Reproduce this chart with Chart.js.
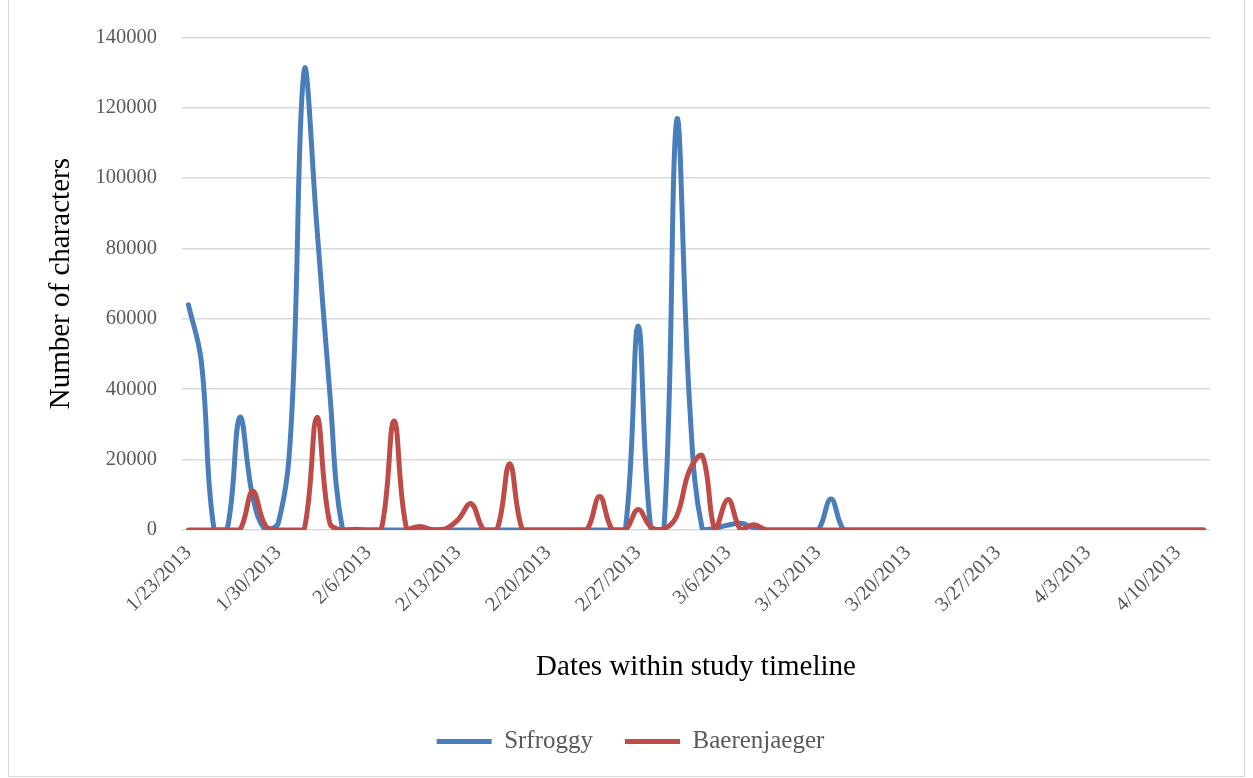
<!DOCTYPE html>
<html>
<head>
<meta charset="utf-8">
<script src="https://cdn.jsdelivr.net/npm/chart.js@4/dist/chart.umd.min.js"></script>
<style>
  html, body { margin: 0; padding: 0; background: #ffffff; }
  #frame { position: absolute; left: 8px; top: -1px; width: 1237px; height: 778px; border: 1px solid #d9d9d9; box-sizing: border-box; }
  #wrap { position: absolute; left: 0; top: 0; width: 1253px; height: 778px; }
</style>
</head>
<body>
<div id="frame"></div>
<div id="wrap"><canvas id="c" width="1253" height="778"></canvas></div>
<script>
const dates = [
  '1/23/2013','1/24/2013','1/25/2013','1/26/2013','1/27/2013','1/28/2013','1/29/2013','1/30/2013','1/31/2013',
  '2/1/2013','2/2/2013','2/3/2013','2/4/2013','2/5/2013','2/6/2013','2/7/2013','2/8/2013','2/9/2013','2/10/2013',
  '2/11/2013','2/12/2013','2/13/2013','2/14/2013','2/15/2013','2/16/2013','2/17/2013','2/18/2013','2/19/2013','2/20/2013',
  '2/21/2013','2/22/2013','2/23/2013','2/24/2013','2/25/2013','2/26/2013','2/27/2013','2/28/2013',
  '3/1/2013','3/2/2013','3/3/2013','3/4/2013','3/5/2013','3/6/2013','3/7/2013','3/8/2013','3/9/2013','3/10/2013',
  '3/11/2013','3/12/2013','3/13/2013','3/14/2013','3/15/2013','3/16/2013','3/17/2013','3/18/2013','3/19/2013','3/20/2013',
  '3/21/2013','3/22/2013','3/23/2013','3/24/2013','3/25/2013','3/26/2013','3/27/2013','3/28/2013','3/29/2013','3/30/2013','3/31/2013',
  '4/1/2013','4/2/2013','4/3/2013','4/4/2013','4/5/2013','4/6/2013','4/7/2013','4/8/2013','4/9/2013','4/10/2013','4/11/2013','4/12/2013'
];

const tickLabels = ['1/23/2013','1/30/2013','2/6/2013','2/13/2013','2/20/2013','2/27/2013',
  '3/6/2013','3/13/2013','3/20/2013','3/27/2013','4/3/2013','4/10/2013'];

const yTicks = [0, 20000, 40000, 60000, 80000, 100000, 120000, 140000];

const srfroggy = [
  64000, 48000, 0, 0, 32000, 9500, 0, 2000, 30000, 130500,
  86000, 39000, 0, 0, 0, 0, 0, 0, 0, 0,
  0, 0, 0, 0, 0, 0, 0, 0, 0, 0,
  0, 0, 0, 0, 0, 58000, 0, 0, 116500, 36000,
  0, 500, 1400, 1900, 600, 0, 0, 0, 0, 0,
  8800, 0, 0, 0, 0, 0, 0, 0, 0, 0,
  0, 0, 0, 0, 0, 0, 0, 0, 0, 0,
  0, 0, 0, 0, 0, 0, 0, 0, 0, 0
];

const baerenjaeger = [
  0, 0, 0, 0, 0, 11000, 1200, 0, 0, 0,
  32000, 2000, 0, 200, 0, 0, 31000, 0, 1000, 100,
  300, 3000, 7500, 0, 0, 18800, 0, 0, 0, 0,
  0, 0, 9500, 0, 0, 5800, 800, 300, 4000, 17000,
  21000, 0, 8700, 0, 1500, 0, 0, 0, 0, 0,
  0, 0, 0, 0, 0, 0, 0, 0, 0, 0,
  0, 0, 0, 0, 0, 0, 0, 0, 0, 0,
  0, 0, 0, 0, 0, 0, 0, 0, 0, 0
];

const seriesNames = ['Srfroggy', 'Baerenjaeger'];

const serif = 'Liberation Serif';
const tickColor = '#595959';

new Chart(document.getElementById('c'), {
  type: 'line',
  data: {
    labels: dates,
    datasets: [
      { label: seriesNames[0], data: srfroggy, borderColor: '#4A7EBB', backgroundColor: '#4A7EBB',
        borderWidth: 5, pointRadius: 0, pointHoverRadius: 0, tension: 0.4,
        borderCapStyle: 'round', borderJoinStyle: 'round', fill: false, order: 1 },
      { label: seriesNames[1], data: baerenjaeger, borderColor: '#BE4B48', backgroundColor: '#BE4B48',
        borderWidth: 5, pointRadius: 0, pointHoverRadius: 0, tension: 0.4,
        borderCapStyle: 'round', borderJoinStyle: 'round', fill: false, order: 0 }
    ]
  },
  options: {
    responsive: false,
    animation: false,
    devicePixelRatio: 1,
    layout: { padding: { left: 8, right: 0, top: 34, bottom: 14 } },
    plugins: {
      tooltip: { enabled: false },
      legend: {
        position: 'bottom',
        labels: {
          usePointStyle: true,
          pointStyle: 'line',
          pointStyleWidth: 55,
          padding: 32,
          color: tickColor,
          font: { family: serif, size: 25 },
          sort: (a, b) => a.datasetIndex - b.datasetIndex
        }
      }
    },
    scales: {
      x: {
        offset: true,
        grid: { display: false, drawTicks: false },
        border: { display: false },
        ticks: {
          autoSkip: false, maxRotation: 45, minRotation: 45, padding: 11,
          color: tickColor, font: { family: serif, size: 20.5 },
          callback: function (v, i) { return tickLabels.includes(dates[i]) ? dates[i] : ''; }
        },
        title: { display: true, text: 'Dates within study timeline', color: '#000000',
          font: { family: serif, size: 29 }, padding: { top: 0, bottom: 12 } },
        afterFit: (s) => { s.height = 167; }
      },
      y: {
        min: yTicks[0], max: yTicks[yTicks.length - 1],
        ticks: { stepSize: yTicks[1] - yTicks[0], padding: 25, color: tickColor,
          font: { family: serif, size: 20.5 }, callback: (v) => String(v) },
        grid: { color: '#d9d9d9', lineWidth: 1.5, drawTicks: false },
        border: { display: false },
        title: { display: true, text: 'Number of characters', color: '#000000',
          font: { family: serif, size: 29 }, padding: { top: 36, bottom: 0 } },
        afterFit: (s) => { s.width = 174; }
      },
      y2: {
        position: 'right',
        display: true,
        grid: { display: false, drawTicks: false },
        border: { display: false },
        ticks: { display: false },
        afterFit: (s) => { s.width = 43; }
      }
    }
  }
});
</script>
</body>
</html>
